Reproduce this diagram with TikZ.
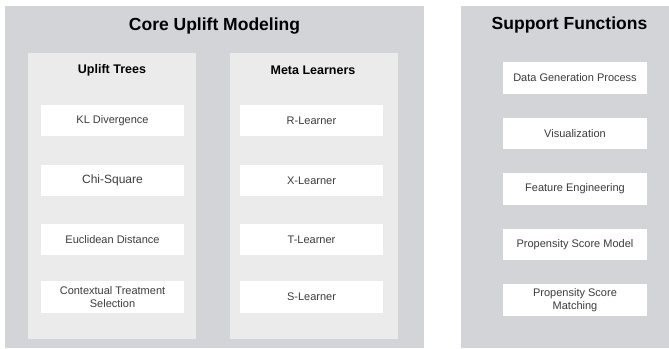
\documentclass[tikz,border=0pt]{standalone}
\usepackage{fontspec}
\setmainfont{Liberation Sans}
\usetikzlibrary{positioning}

\definecolor{outergray}{RGB}{211,212,216}
\definecolor{innergray}{RGB}{235,235,235}
\definecolor{leaftext}{RGB}{60,60,60}

\begin{document}
\begin{tikzpicture}[x=1pt, y=-1pt,
		title/.style = {font=\fontsize{17.5}{20}\selectfont\bfseries, text=black},
		subtitle/.style = {font=\fontsize{12.5}{15}\selectfont\bfseries, text=black},
		leaf/.style = {fill=white, minimum width=143pt, minimum height=31.5pt, inner sep=0pt,
			align=center, text=leaftext, font=\fontsize{11}{13}\selectfont}]
		\useasboundingbox (0,0) rectangle (669,348);
		
		% panels
		\fill[outergray] (5,6) rectangle (424,348);
		\fill[outergray] (461,6) rectangle (669,348);
		\fill[innergray] (28,53) rectangle (196,339);
		\fill[innergray] (230,53) rectangle (398,339);
		
		\node[title] (core) at (214.5,26) {Core Uplift Modeling};
		\node[title] (support) at (569.5,25) {Support Functions};
		\node[subtitle] (trees) at (112,70) {Uplift Trees};
		\node[subtitle] (meta) at (313,70) {Meta Learners};
		
		% uplift trees
		\node[leaf] (kl) at (112.5,120.5) {KL Divergence};
		\node[leaf, font=\fontsize{12}{14}\selectfont] (chi) at (112.5,180.5) {Chi-Square};
		\node[leaf] (eucl) at (112.5,239.5) {Euclidean Distance};
		\node[leaf] (cts) at (112.5,297) {Contextual Treatment\\Selection};
		
		% meta learners
		\node[leaf] (rl) at (311.5,120.5) {R-Learner};
		\node[leaf] (xl) at (311.5,180.5) {X-Learner};
		\node[leaf] (tl) at (311.5,239.5) {T-Learner};
		\node[leaf] (sl) at (311.5,297) {S-Learner};
		
		% support functions
		\node[leaf, minimum width=144pt] (dgp) at (575,78) {Data Generation Process};
		\node[leaf, minimum width=144pt] (vis) at (575,133.5) {Visualization};
		\node[leaf, minimum width=144pt] (feat) at (575,189) {Feature Engineering};
		\node[leaf, minimum width=144pt] (psm) at (575,244.5) {Propensity Score Model};
		\node[leaf, minimum width=144pt] (match) at (575,300) {Propensity Score\\Matching};
	\end{tikzpicture}
\end{document}
